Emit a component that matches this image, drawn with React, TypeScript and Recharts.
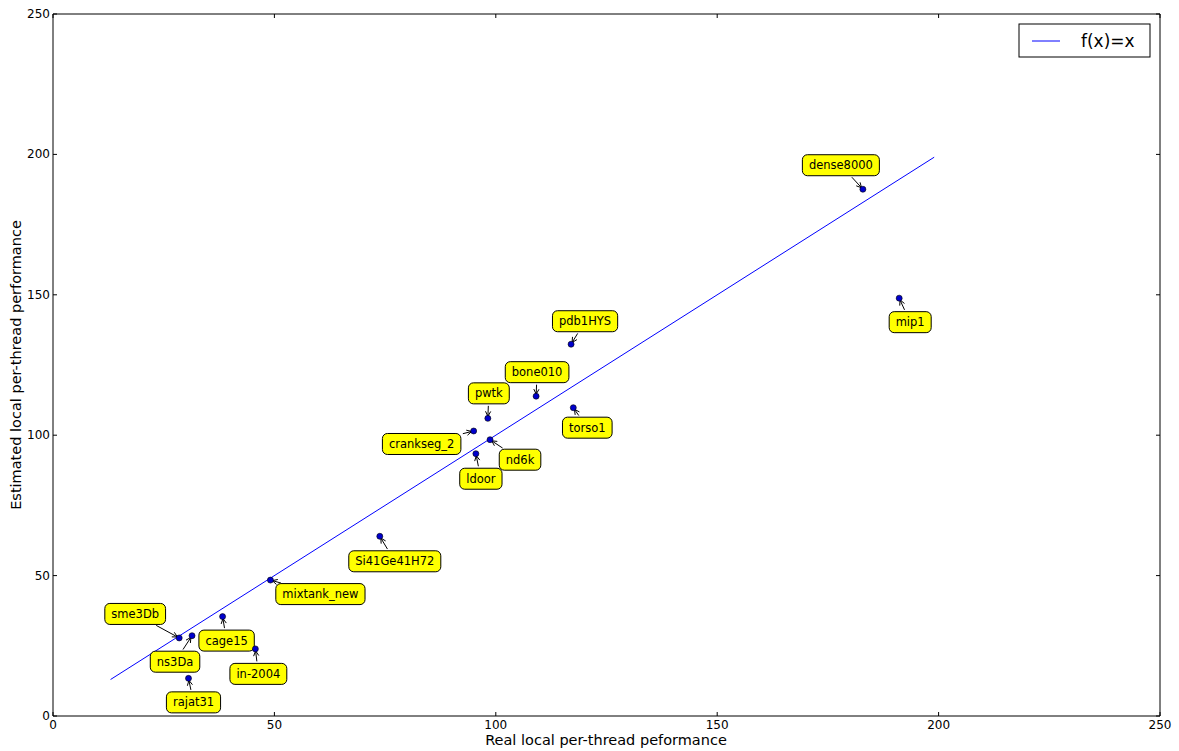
import React from 'react';
import { ScatterChart, Scatter, XAxis, YAxis } from 'recharts';

// matrices and their measured / estimated per-thread performance
const matrixNames = [
  'dense8000', 'mip1', 'pdb1HYS', 'torso1', 'bone010', 'pwtk', 'crankseg_2', 'nd6k',
  'ldoor', 'Si41Ge41H72', 'mixtank_new', 'sme3Db', 'ns3Da', 'cage15', 'in-2004', 'rajat31',
];
const realPerf = [182.9, 191.1, 117.0, 117.5, 109.1, 98.2, 95.0, 98.7, 95.5, 73.8, 49.1, 28.5, 31.4, 38.3, 45.7, 30.6];
const estimatedPerf = [187.6, 148.8, 132.4, 109.8, 113.9, 106.0, 101.5, 98.4, 93.4, 64.0, 48.4, 27.8, 28.6, 35.4, 23.9, 13.4];

// f(x)=x reference line end points
const identityX = [13, 199];

const axisTicks = [0, 50, 100, 150, 200, 250];

// annotation box offsets (px) from each point, like xytext in matplotlib
const labelOffsets: Record<string, [number, number]> = {
  dense8000: [-22, -24],
  mip1: [11, 24],
  pdb1HYS: [14, -23],
  torso1: [14, 20],
  bone010: [1, -24],
  pwtk: [1, -25],
  crankseg_2: [-52, 13],
  nd6k: [30, 20],
  ldoor: [5, 25],
  Si41Ge41H72: [15, 25],
  mixtank_new: [50, 14],
  sme3Db: [-44, -24],
  ns3Da: [-17, 26],
  cage15: [4, 24],
  'in-2004': [3, 25],
  rajat31: [5, 24],
};

const points = matrixNames.map((name, i) => ({ name, x: realPerf[i], y: estimatedPerf[i] }));
const identityLine = identityX.map((v) => ({ x: v, y: v }));

const FONT = 'DejaVu Sans, sans-serif';
const LABEL_SIZE = 11.5;

let ctx: CanvasRenderingContext2D | null = null;
function textWidth(s: string, size: number) {
  if (!ctx) ctx = document.createElement('canvas').getContext('2d');
  if (!ctx) return s.length * size * 0.6;
  ctx.font = `${size}px "DejaVu Sans"`;
  return ctx.measureText(s).width;
}

function AnnotatedPoint(props: any) {
  const { cx, cy, payload } = props;
  if (cx == null || cy == null) return <g />;
  const [dx, dy] = labelOffsets[payload.name] || [0, -20];
  const lx = cx + dx;
  const ly = cy + dy;
  const w = textWidth(payload.name, LABEL_SIZE) + 13;
  const h = 21;

  // arrow from box edge to the point
  const vx = cx - lx;
  const vy = cy - ly;
  const len = Math.hypot(vx, vy);
  const ux = vx / len;
  const uy = vy / len;
  const tEdge = Math.min(
    Math.abs(ux) > 1e-6 ? (w / 2) / Math.abs(ux) : Infinity,
    Math.abs(uy) > 1e-6 ? (h / 2) / Math.abs(uy) : Infinity,
  );
  const sx = lx + ux * (tEdge + 2);
  const sy = ly + uy * (tEdge + 2);
  const ex = cx - ux * 2;
  const ey = cy - uy * 2;
  const hl = 5;
  const hw = 2.6;
  const bx = ex - ux * hl;
  const by = ey - uy * hl;
  const arrowOk = len > tEdge + 6;

  return (
    <g>
      {arrowOk && (
        <g stroke="#000" strokeWidth={1} fill="none">
          <line x1={sx} y1={sy} x2={ex} y2={ey} />
          <polyline points={`${bx - uy * hw},${by + ux * hw} ${ex},${ey} ${bx + uy * hw},${by - ux * hw}`} />
        </g>
      )}
      <circle cx={cx} cy={cy} r={3} fill="#0000cc" stroke="#000" strokeWidth={0.6} />
      <rect x={lx - w / 2} y={ly - h / 2} width={w} height={h} rx={5} ry={5} fill="#ffff00" stroke="#000" strokeWidth={1} />
      <text x={lx} y={ly + 4} textAnchor="middle" fontFamily={FONT} fontSize={LABEL_SIZE} fill="#000">
        {payload.name}
      </text>
    </g>
  );
}

const BottomTick = (p: any) => (
  <g>
    <line x1={p.x} y1={p.y} x2={p.x} y2={p.y - 4} stroke="#000" />
    <text x={p.x} y={p.y + 13} textAnchor="middle" fontFamily={FONT} fontSize={12} fill="#000">
      {p.payload.value}
    </text>
  </g>
);
const LeftTick = (p: any) => (
  <g>
    <line x1={p.x} y1={p.y} x2={p.x + 4} y2={p.y} stroke="#000" />
    <text x={p.x - 3} y={p.y + 4} textAnchor="end" fontFamily={FONT} fontSize={12} fill="#000">
      {p.payload.value}
    </text>
  </g>
);
const TopTick = (p: any) => <line x1={p.x} y1={p.y} x2={p.x} y2={p.y + 4} stroke="#000" />;
const RightTick = (p: any) => <line x1={p.x} y1={p.y} x2={p.x - 4} y2={p.y} stroke="#000" />;

export default function App() {
  return (
    <div style={{ position: 'absolute', left: 0, top: 0, background: '#fff' }}>
      <ScatterChart width={1179} height={751} margin={{ top: 13, right: 18, bottom: 5, left: 0 }}>
        <XAxis
          type="number" dataKey="x" domain={[0, 250]} ticks={axisTicks} height={30}
          tickSize={0} tickMargin={0} tickLine={false} tick={BottomTick}
          axisLine={{ stroke: '#000' }} allowDataOverflow
        />
        <XAxis
          xAxisId="top" orientation="top" type="number" dataKey="x" domain={[0, 250]} ticks={axisTicks} height={1}
          tickSize={0} tickMargin={0} tickLine={false} tick={TopTick}
          axisLine={{ stroke: '#000' }} allowDataOverflow
        />
        <YAxis
          type="number" dataKey="y" domain={[0, 250]} ticks={axisTicks} width={53}
          tickSize={0} tickMargin={0} tickLine={false} tick={LeftTick}
          axisLine={{ stroke: '#000' }} allowDataOverflow
        />
        <YAxis
          yAxisId="right" orientation="right" type="number" dataKey="y" domain={[0, 250]} ticks={axisTicks} width={1}
          tickSize={0} tickMargin={0} tickLine={false} tick={RightTick}
          axisLine={{ stroke: '#000' }} allowDataOverflow
        />
        <Scatter
          xAxisId="top" yAxisId="right"
          data={identityLine} line={{ stroke: '#0000ff', strokeWidth: 1 }} lineType="joint"
          shape={() => <g />} isAnimationActive={false} legendType="line"
        />
        <Scatter data={points} shape={AnnotatedPoint} isAnimationActive={false} />

        <text x={606} y={745} textAnchor="middle" fontFamily={FONT} fontSize={14.5} fill="#000">
          Real local per-thread peformance
        </text>
        <text
          x={21} y={365} textAnchor="middle" fontFamily={FONT} fontSize={14.5} fill="#000"
          transform="rotate(-90 21 365)"
        >
          Estimated local per-thread performance
        </text>

        <g>
          <rect x={1019} y={24} width={131} height={33} fill="#fff" stroke="#000" strokeWidth={1} />
          <line x1={1032} y1={41} x2={1060} y2={41} stroke="#0000ff" strokeWidth={1} />
          <text x={1081} y={47} fontFamily={FONT} fontSize={17} fill="#000">f(x)=x</text>
        </g>
      </ScatterChart>
    </div>
  );
}
